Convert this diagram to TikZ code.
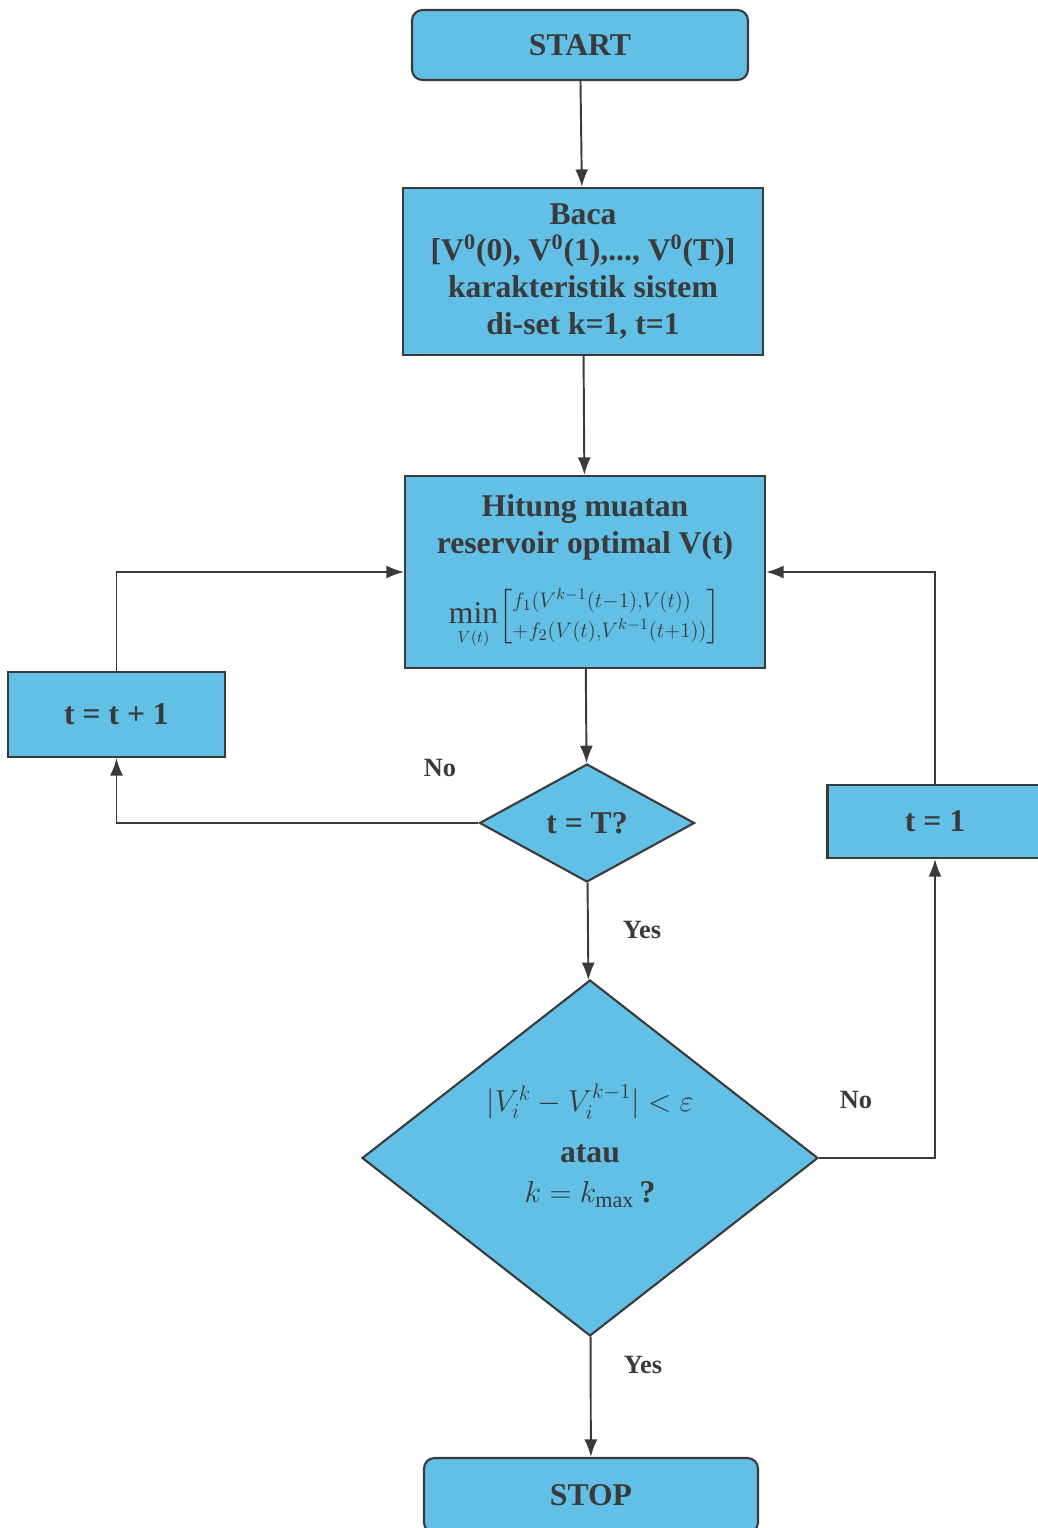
\documentclass[tikz,border=0pt]{standalone}
\usepackage{fontspec}
\setmainfont{Liberation Serif}
\usepackage{amsmath}
\usetikzlibrary{arrows.meta,shapes.geometric}
\definecolor{boxblue}{RGB}{98,191,229}
\definecolor{inkgray}{RGB}{58,58,58}

\begin{document}
\begin{tikzpicture}[
  every node/.style={font=\bfseries\fontsize{18}{21}\selectfont, text=inkgray},
  procbox/.style={draw=inkgray, fill=boxblue, line width=1.2pt, align=center, inner sep=0pt},
  termbox/.style={procbox, rounded corners=6pt},
  decision/.style={procbox, diamond},
  answer/.style={font=\bfseries\fontsize{15}{18}\selectfont},
  flow/.style={draw=inkgray, line width=1.1pt, -{Latex[length=3.5mm,width=2.6mm]}}
]
  \useasboundingbox (0,0) rectangle (20.76,-30.56);

  % Main column
  \node[termbox, minimum width=6.72cm, minimum height=1.4cm] (start) at (11.6,-0.9) {START};
  \node[procbox, minimum width=7.2cm, minimum height=3.34cm] (baca) at (11.66,-5.43)
    {Baca\\ {[}V\textsuperscript{0}(0), V\textsuperscript{0}(1),..., V\textsuperscript{0}(T){]}\\ karakteristik sistem\\ di-set k=1, t=1};
  \node[procbox, minimum width=7.2cm, minimum height=3.84cm] (hitung) at (11.7,-11.44)
    {Hitung muatan\\ reservoir optimal V(t)\\[14pt]
     \renewcommand{\arraystretch}{0.8}%
     $\mathop{\mathrm{min}}\limits_{\scriptscriptstyle V(t)}\!
      \left[\begin{array}{@{}l@{}}\scriptstyle f_1(V^{k-1}(t-1),V(t))\\ \scriptstyle +f_2(V(t),V^{k-1}(t+1))\end{array}\right]$};
  \node[decision, minimum width=4.3cm, minimum height=2.36cm] (tT) at (11.74,-16.46) {t = T?};
  \node[decision, minimum width=9.12cm, minimum height=7.12cm,
    label={[align=center, yshift=7pt]center:{$|V_i^k-V_i^{k-1}|<\varepsilon$\\[8pt] atau\\[2pt] $k=k_{\max}$\,?}}]
    (conv) at (11.8,-23.16) {};
  \node[termbox, minimum width=6.68cm, minimum height=1.5cm] (stop) at (11.82,-29.91) {STOP};

  % Side boxes
  \node[procbox, minimum width=4.34cm, minimum height=1.7cm] (tinc) at (2.33,-14.29) {t = t + 1};
  \node[procbox, minimum width=4.3cm, minimum height=1.46cm] (treset) at (18.7,-16.43) {t = 1};

  % Connectors
  \draw[flow] (start) -- (baca);
  \draw[flow] (baca) -- (hitung);
  \draw[flow] (hitung) -- (tT);
  \draw[flow] (tT.west) -| (tinc.south);
  \draw[flow] (tinc.north) |- (hitung.west);
  \draw[flow] (tT) -- (conv);
  \draw[flow] (conv.east) -| (treset.south);
  \draw[flow] (treset.north) |- (hitung.east);
  \draw[flow] (conv) -- (stop);

  % Answers
  \node[answer] (no1) at (8.8,-15.36) {No};
  \node[answer] (yes1) at (12.84,-18.6) {Yes};
  \node[answer] (no2) at (17.12,-22) {No};
  \node[answer] (yes2) at (12.86,-27.3) {Yes};
\end{tikzpicture}
\end{document}
